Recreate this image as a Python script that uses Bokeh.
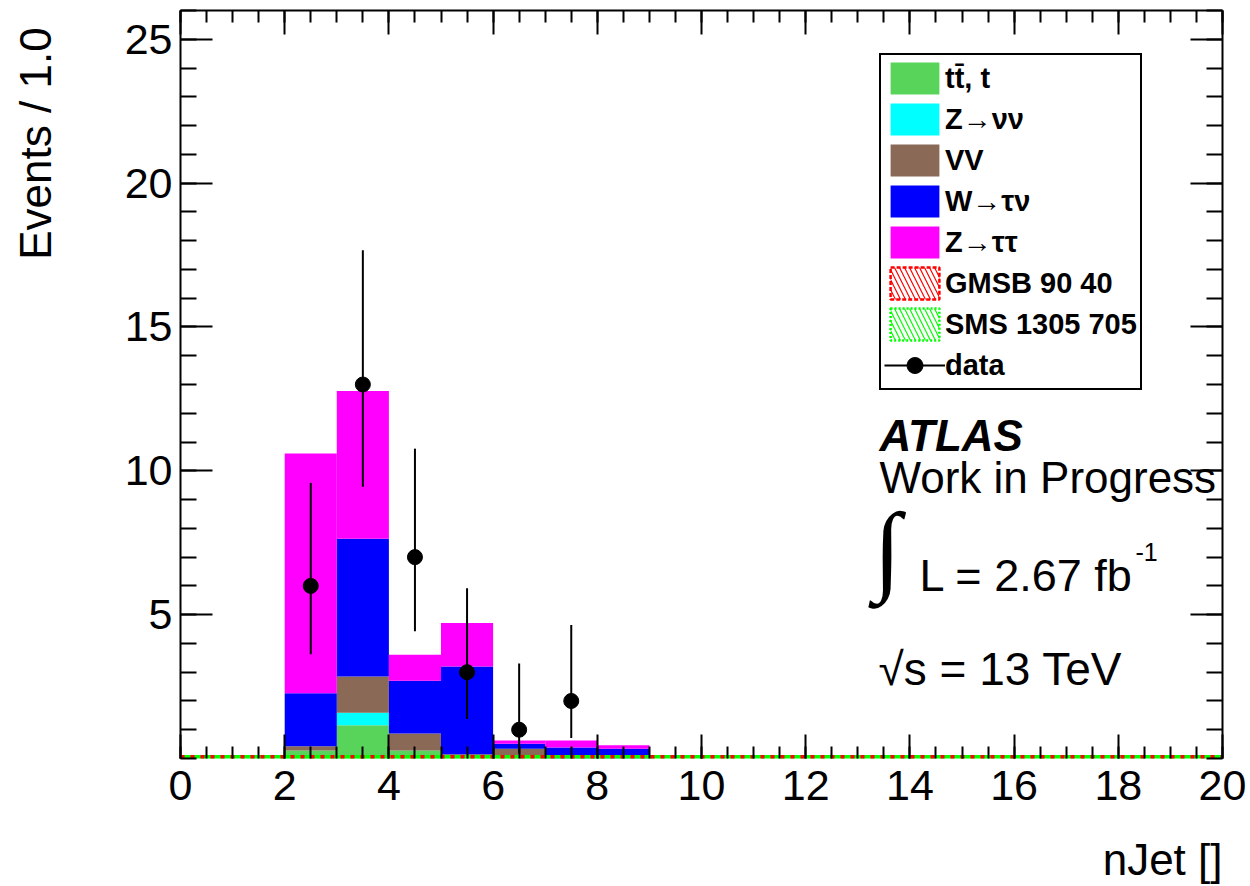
from math import pi

from bokeh.plotting import figure
from bokeh.layouts import row
from bokeh.models import (Range1d, LinearAxis, FixedTicker, Legend, LegendItem,
                          ColumnDataSource, Label, Title)
from bokeh.core.properties import value
from bokeh.embed import file_html
from bokeh.resources import INLINE

# ---- nJet binning (unit-width bins carrying background) ----
bin_low = [2, 3, 4, 5, 6, 7, 8]
bin_high = [3, 4, 5, 6, 7, 8, 9]

# ---- stacked background expectations per bin (events) ----
ttbar = [0.28, 1.16, 0.28, 0.08, 0.05, 0.00, 0.00]
znunu = [0.00, 0.43, 0.00, 0.00, 0.00, 0.00, 0.00]
diboson = [0.15, 1.26, 0.59, 0.07, 0.29, 0.00, 0.00]
wtaunu = [1.84, 4.79, 1.83, 3.05, 0.17, 0.38, 0.34]
ztautau = [8.33, 5.13, 0.91, 1.51, 0.12, 0.25, 0.12]

# ---- observed data with asymmetric Poisson intervals ----
data_x = [2.5, 3.5, 4.5, 5.5, 6.5, 7.5]
data_y = [6, 13, 7, 3, 1, 2]
data_lo = [3.62, 9.44, 4.42, 1.37, 0.17, 0.71]
data_hi = [9.58, 17.67, 10.77, 5.92, 3.30, 4.64]

# ---- signal hypotheses over the full range (0..20, unit bins) ----
sig_edges = [0, 1, 2, 3, 4, 5, 6, 7, 8, 9, 10, 11, 12, 13, 14, 15, 16, 17, 18, 19, 20]
gmsb_90_40 = [0, 0, 0, 0, 0, 0, 0, 0, 0, 0, 0, 0, 0, 0, 0, 0, 0, 0, 0, 0]
sms_1305_705 = [0, 0, 0, 0, 0, 0, 0, 0, 0, 0, 0, 0, 0, 0, 0, 0, 0, 0, 0, 0]

# ---- axis ticks ----
x_major = [0, 2, 4, 6, 8, 10, 12, 14, 16, 18, 20]
x_minor = [i * 0.5 for i in range(41)]
y_major = [5, 10, 15, 20, 25]
y_minor = list(range(0, 27))

FONT = "Liberation Sans"

# page geometry: a narrow strip on the left carries the y-axis title
SIDE_W, TOTAL_W, TOTAL_H = 60, 1250, 886
MAIN_W = TOTAL_W - SIDE_W

p = figure(width=MAIN_W, height=TOTAL_H,
           x_range=Range1d(0, 20), y_range=Range1d(0, 26),
           x_axis_type=None, y_axis_type=None,
           output_backend="svg", toolbar_location=None,
           min_border_left=120, min_border_right=28,
           min_border_top=10, min_border_bottom=128,
           outline_line_color=None,
           background_fill_color="white", border_fill_color="white")
p.title = None

# ---- stacked histogram ----
stack_values = [ttbar, znunu, diboson, wtaunu, ztautau]
stack_colors = ["#58d45a", "#00ffff", "#8a6956", "#0000ff", "#ff00ff"]
stack_labels = ["tt\u0304, t", "Z\u2192\u03bd\u03bd", "VV", "W\u2192\u03c4\u03bd", "Z\u2192\u03c4\u03c4"]

running = [0.0] * len(bin_low)
stack_renderers = []
for vals, col in zip(stack_values, stack_colors):
    top = [b + v for b, v in zip(running, vals)]
    src = ColumnDataSource(dict(left=bin_low, right=bin_high, bottom=list(running), top=top))
    r = p.quad(left="left", right="right", bottom="bottom", top="top", source=src,
               fill_color=col, line_color=None)
    stack_renderers.append(r)
    running = top

# ---- signal histograms (flat along the baseline) ----
p.step(x=sig_edges, y=sms_1305_705 + [sms_1305_705[-1]], mode="after",
       line_color="#00ff00", line_width=7)
p.step(x=sig_edges, y=gmsb_90_40 + [gmsb_90_40[-1]], mode="after",
       line_color="#ff0000", line_width=7, line_dash="4 6")

sig_src_g = ColumnDataSource(dict(left=sig_edges[:-1], right=sig_edges[1:],
                                  top=gmsb_90_40, bottom=[0] * 20))
sig_src_s = ColumnDataSource(dict(left=sig_edges[:-1], right=sig_edges[1:],
                                  top=sms_1305_705, bottom=[0] * 20))
gmsb_box = p.quad(left="left", right="right", top="top", bottom="bottom", source=sig_src_g,
                  fill_color=None, hatch_pattern="\\", hatch_color="#ff0000",
                  hatch_scale=10, hatch_weight=1.2,
                  line_color="#ff0000", line_width=2.5, line_dash="4 2", visible=False)
sms_box = p.quad(left="left", right="right", top="top", bottom="bottom", source=sig_src_s,
                 fill_color=None, hatch_pattern="\\", hatch_color="#00ff00",
                 hatch_scale=10, hatch_weight=1.2,
                 line_color="#00ff00", line_width=2.5, line_dash="2 2", visible=False)

# ---- data points ----
dsrc = ColumnDataSource(dict(x=data_x, y=data_y, lo=data_lo, hi=data_hi))
err = p.segment(x0="x", x1="x", y0="lo", y1="hi", source=dsrc,
                line_color="black", line_width=2)
pts = p.scatter(x="x", y="y", source=dsrc, size=15, marker="circle",
                fill_color="black", line_color="black")

# ---- axes: labelled bottom/left, mirrored tick-only top/right ----
def make_axis(major, minor, major_len, minor_len, labels, line_color="black", standoff=8):
    return LinearAxis(
        ticker=FixedTicker(ticks=major, minor_ticks=minor),
        axis_line_color=line_color, axis_line_width=2,
        major_tick_in=major_len, major_tick_out=0,
        minor_tick_in=minor_len, minor_tick_out=0,
        major_tick_line_color="black", minor_tick_line_color="black",
        major_tick_line_width=2, minor_tick_line_width=2,
        major_label_text_font=FONT,
        major_label_text_font_size="43px" if labels else "0px",
        major_label_text_color="black" if labels else None,
        major_label_standoff=standoff if labels else 0,
    )

p.add_layout(make_axis(x_major, x_minor, 24, 12, True, line_color=None, standoff=12), "below")
p.add_layout(make_axis(y_major, y_minor, 32, 16, True, standoff=8), "left")
p.add_layout(make_axis(x_major, x_minor, 24, 12, False), "above")
p.add_layout(make_axis(y_major, y_minor, 32, 16, False), "right")

# blank band below the tick labels so the x title sits at the bottom edge
gap_axis = LinearAxis(ticker=FixedTicker(ticks=x_major), axis_line_color=None,
                      major_tick_in=0, major_tick_out=28, minor_tick_in=0, minor_tick_out=0,
                      major_tick_line_color="white", minor_tick_line_color=None,
                      major_label_text_font_size="0px", major_label_text_color=None,
                      major_label_standoff=0)
p.add_layout(gap_axis, "below")
p.add_layout(Title(text="nJet []", align="right", vertical_align="bottom",
                   text_font=FONT, text_font_size="44px", text_font_style="normal",
                   text_color="black", standoff=4), "below")

# ---- legend ----
items = [LegendItem(label=lab, renderers=[r]) for lab, r in zip(stack_labels, stack_renderers)]
items.append(LegendItem(label="GMSB 90 40", renderers=[gmsb_box]))
items.append(LegendItem(label="SMS 1305 705", renderers=[sms_box]))
items.append(LegendItem(label="data", renderers=[err, pts]))

legend = Legend(items=items, location=(699, 368),
                glyph_width=61, glyph_height=40, label_height=32,
                label_text_font=FONT, label_text_font_size="29px",
                label_text_font_style="bold", label_text_color="black",
                label_standoff=0, spacing=1, padding=3, margin=0,
                border_line_color="black", border_line_width=2, border_line_alpha=1.0,
                background_fill_color="white", background_fill_alpha=1.0)
p.add_layout(legend)

# ---- annotations (placed by pixel position inside the frame) ----
def px_x(px):
    return (px - 180) / 52.1

def px_y(py):
    return (758 - py) / 28.77

p.add_layout(Label(x=px_x(879), y=px_y(435), text="ATLAS", text_font=FONT,
                   text_font_size="44px", text_font_style="bold italic",
                   text_color="black", text_baseline="alphabetic"))
p.add_layout(Label(x=px_x(879), y=px_y(477), text="Work in Progress", text_font=FONT,
                   text_font_size="44px", text_color="black", text_baseline="alphabetic"))
p.add_layout(Label(x=px_x(887), y=px_y(548), text="\u222b", text_font="Liberation Serif",
                   text_font_size="100px", text_color="black",
                   text_align="center", text_baseline="middle"))
p.add_layout(Label(x=px_x(919), y=px_y(575), text="L = 2.67 fb", text_font=FONT,
                   text_font_size="45px", text_color="black", text_baseline="alphabetic"))
p.add_layout(Label(x=px_x(1135), y=px_y(551), text="-1", text_font=FONT,
                   text_font_size="25px", text_color="black", text_baseline="alphabetic"))
p.add_layout(Label(x=px_x(878), y=px_y(668), text="\u221as = 13 TeV", text_font=FONT,
                   text_font_size="46px", text_color="black", text_baseline="alphabetic"))

# ---- y-axis title strip ----
side = figure(width=SIDE_W, height=TOTAL_H, x_range=Range1d(0, SIDE_W), y_range=Range1d(0, TOTAL_H),
              x_axis_type=None, y_axis_type=None,
              output_backend="svg", toolbar_location=None, min_border=0,
              outline_line_color=None,
              background_fill_color="white", border_fill_color="white")
side.title = None
side.text(x=[35], y=[TOTAL_H - 20], text=["Events / 1.0"], angle=pi / 2,
          text_align="right", text_baseline="middle", text_color="black",
          text_font=value(FONT), text_font_size="44px")

layout = row(side, p, spacing=0)

open("out.html", "w").write(file_html(layout, INLINE))
